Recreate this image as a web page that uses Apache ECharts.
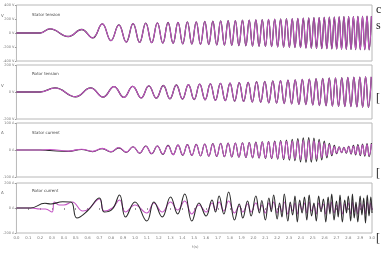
<!DOCTYPE html>
<html><head><meta charset="utf-8">
<script src="https://cdn.jsdelivr.net/npm/echarts@6/dist/echarts.min.js"></script>
<style>html,body{margin:0;padding:0;background:#fff}#c{width:385px;height:260px}</style>
</head><body><div id="c"></div>
<script>
// ---- data ----
const xTickLabels = ['0.0','0.1','0.2','0.3','0.4','0.5','0.6','0.7','0.8','0.9','1.0','1.1','1.2','1.3','1.4','1.5','1.6','1.7','1.8','1.9','2.0','2.1','2.2','2.3','2.4','2.5','2.6','2.7','2.8','2.9','3.0'];
const panelTitles = ['Stator tension','Rotor tension','Stator current','Rotor current'];
const panelUnits = ['V','V','A','A'];
const panelRanges = [400, 200, 100, 200];
const panelTickSteps = [200, 200, 100, 200];

// panel 1 & 3 extrema times (s)
const p1T = [0,0.20,0.283,0.437,0.550,0.643,0.724,0.797,0.864,0.926,0.984,1.039,1.091,1.141,1.189,1.235,1.279,1.322,1.363,1.403,1.442,1.480,1.517,1.553,1.589,1.623,1.657,1.690,1.723,1.755,1.786,1.817,1.847,1.877,1.907,1.936,1.964,1.992,2.020,2.047,2.074,2.101,2.127,2.153,2.179,2.204,2.229,2.254,2.278,2.303,2.327,2.350,2.374,2.397,2.420,2.443,2.466,2.488,2.510,2.532,2.554,2.576,2.597,2.619,2.640,2.661,2.682,2.702,2.723,2.743,2.763,2.783,2.803,2.823,2.843,2.862,2.881,2.901,2.920,2.939,2.958,2.976,2.995];
// stator voltage (V)
const p1V = [0,0,
 60,-50,50,-70,130,-110,115,-130,135,-135,
 140,-138,145,-145,150,-148,152,-155,158,-158,
 160,-162,165,-165,168,-170,172,-172,175,-176,
 178,-180,182,-182,185,-186,188,-190,190,-192,
 195,-195,198,-198,200,-202,204,-205,206,-208,
 210,-210,212,-214,215,-216,218,-220,220,-222,
 224,-224,226,-226,228,-228,230,-230,232,-232,
 234,-234,235,-236,236,-238,238,-238,240,-240,
 240];
// stator current (A), simulated / measured
const p3Sim = [0,0,
 2,-4,3,-5,6,-6,9,-8,12,-11,
 14,-13,15,-15,16,-17,18,-18,19,-20,
 20,-21,22,-22,23,-23,24,-24,25,-25,
 26,-26,26,-27,27,-28,28,-28,29,-29,
 30,-30,30,-31,31,-31,32,-32,32,-33,
 34,-35,36,-36,36,-35,34,-32,30,-28,
 25,-22,19,-16,13,-11,10,-9,9,-10,
 12,-13,14,-15,16,-17,18,-19,20,-21,
 22];
const p3Meas = [0,0,
 -2,-5,2,-6,5,-7,8,-9,12,-12,
 15,-14,15,-16,17,-17,18,-19,20,-20,
 21,-22,22,-23,24,-24,25,-25,26,-26,
 26,-27,27,-28,28,-29,29,-30,30,-31,
 31,-32,33,-34,35,-36,37,-38,40,-40,
 42,-44,45,-46,46,-45,44,-42,40,-37,
 33,-29,25,-21,17,-14,12,-10,10,-12,
 14,-15,17,-18,20,-21,22,-23,24,-25,
 26];

// panel 2 extrema times (s)
const p2T = [0,0.20,0.325,0.499,0.626,0.731,0.823,0.906,0.981,1.052,1.117,1.180,1.239,1.295,1.349,1.401,1.451,1.499,1.546,1.592,1.636,1.679,1.721,1.762,1.802,1.841,1.880,1.917,1.955,1.990,2.026,2.061,2.095,2.129,2.163,2.195,2.228,2.259,2.291,2.322,2.352,2.383,2.412,2.442,2.471,2.500,2.528,2.556,2.584,2.612,2.639,2.666,2.692,2.718,2.745,2.771,2.796,2.822,2.847,2.872,2.897,2.921,2.946,2.970,2.994];
// rotor voltage (V)
const p2V = [0,0,
 30,-35,30,-38,40,-40,42,-44,46,-46,
 48,-50,52,-52,55,-56,58,-58,60,-62,
 64,-64,66,-68,70,-70,72,-74,76,-76,
 78,-80,82,-82,84,-86,88,-88,90,-92,
 94,-94,96,-96,98,-100,100,-102,104,-104,
 105,-106,106,-108,108,-108,110,-110,110,-112,
 112,-112,112];

// rotor current (A): [t, value]
const p4Meas = [[0,0],[0.12,0],[0.24,38],[0.29,32],[0.39,50],[0.46,48],[0.51,-80],[0.60,-22],[0.70,80],[0.74,-32],[0.81,-8],[0.87,104],[0.92,-72],
 [1.00,48],[1.10,-104],[1.16,48],[1.23,-72],[1.30,88],[1.36,-48],[1.42,112],[1.48,-104],[1.54,40],[1.60,-64],[1.65,64],[1.68,-32],[1.71,96],[1.75,-48],[1.79,128],[1.84,-96],[1.88,32],[1.91,-80],[1.95,56],[1.98,-64],
 [2.02,96],[2.05,-40],[2.07,60],[2.10,-96],[2.13,80],[2.15,-30],[2.17,104],[2.20,-88],[2.22,40],[2.24,-72],[2.26,112],[2.29,-104],[2.31,48],[2.33,-56],[2.35,96],[2.37,-112],[2.39,64],[2.41,-40],[2.43,88],[2.45,-96],[2.47,104],[2.49,-64],[2.51,40],[2.53,-104],[2.55,96],[2.57,-30],[2.59,72],[2.61,-112],[2.63,88],[2.645,-48],[2.66,112],[2.68,-96],[2.70,56],[2.715,-72],[2.73,104],[2.75,-112],[2.77,64],[2.785,-40],[2.80,96],[2.82,-104],[2.835,112],[2.85,-80],[2.865,48],[2.88,-112],[2.90,96],[2.915,-56],[2.93,80],[2.945,-120],[2.96,104],[2.975,-64],[2.99,88],[3.0,-40]];
const p4Sim = [[0,0],[0.12,0],[0.20,-8],[0.245,-8],[0.30,-32],[0.32,48],[0.36,24],[0.40,24],[0.47,48],[0.56,-24],[0.61,-8],[0.70,72],[0.74,-24],[0.81,0],[0.87,64],[0.92,-32],
 [1.00,24],[1.10,-40],[1.16,40],[1.23,-32],[1.30,48],[1.36,-16],[1.42,56],[1.48,-48],[1.54,24],[1.60,-32],[1.65,40],[1.68,-16],[1.71,48],[1.75,-24],[1.79,56],[1.84,-40],[1.88,16],[1.91,-32],[1.95,32],[1.98,-32],
 [2.02,40],[2.05,-16],[2.07,24],[2.10,-40],[2.13,40],[2.15,-8],[2.17,48],[2.20,-40],[2.22,16],[2.24,-32],[2.26,48],[2.29,-48],[2.31,24],[2.33,-24],[2.35,40],[2.37,-48],[2.39,32],[2.41,-16],[2.43,40],[2.45,-40],[2.47,48],[2.49,-24],[2.51,24],[2.53,-48],[2.55,40],[2.57,-8],[2.59,32],[2.61,-48],[2.63,40],[2.645,-16],[2.66,48],[2.68,-40],[2.70,24],[2.715,-32],[2.73,48],[2.75,-48],[2.77,32],[2.785,-16],[2.80,40],[2.82,-48],[2.835,48],[2.85,-32],[2.865,24],[2.88,-48],[2.90,40],[2.915,-24],[2.93,32],[2.945,-48],[2.96,48],[2.975,-24],[2.99,40],[3.0,-16]];

// ---- chart ----
const zip = (t, v) => t.map((x, i) => [x, v[i]]);
const MAG = '#c455c4', BLK = '#2a2a2a';
const grids = [
  {left:14, top:5, width:358, height:56},
  {left:14, top:65, width:358, height:54},
  {left:14, top:123, width:358, height:54},
  {left:14, top:183, width:358, height:50}
].map(g => Object.assign(g, {show:true, borderColor:'#b8b8b8', borderWidth:1, backgroundColor:'#fff'}));

const xAxes = grids.map((g, i) => ({
  type:'value', gridIndex:i, min:0, max:3, interval:0.1,
  axisLine:{show:false}, splitLine:{show:false},
  axisTick:{show:i===3, length:2, lineStyle:{color:'#999'}},
  axisLabel:{show:i===3, fontSize:3.8, color:'#777', margin:3, fontFamily:'DejaVu Sans',
    formatter: v => xTickLabels[Math.round(v*10)]}
}));
const yAxes = grids.map((g, i) => ({
  type:'value', gridIndex:i, min:-panelRanges[i], max:panelRanges[i], interval:panelTickSteps[i],
  axisLine:{show:false}, splitLine:{show:false},
  axisTick:{show:true, length:1.5, lineStyle:{color:'#999'}},
  axisLabel:{fontSize:3.5, color:'#777', margin:2, fontFamily:'DejaVu Sans',
    formatter: v => v + ' ' + panelUnits[i]}
}));
const line = (i, data, color, z, w) => ({
  type:'line', xAxisIndex:i, yAxisIndex:i, data, showSymbol:false, smooth:0.45,
  lineStyle:{color, width:w}, z, animation:false, silent:true
});
const series = [
  line(0, zip(p1T, p1V), BLK, 2, 1.3), line(0, zip(p1T, p1V), MAG, 3, 1.1),
  line(1, zip(p2T, p2V), BLK, 2, 1.3), line(1, zip(p2T, p2V), MAG, 3, 1.1),
  line(2, zip(p1T, p3Meas), BLK, 2, 1.1), line(2, zip(p1T, p3Sim), MAG, 3, 1.1),
  line(3, p4Sim, MAG, 2, 1.1), line(3, p4Meas, BLK, 3, 1.1)
];
const titleTops = [13, 72, 131, 189];
const graphic = [];
panelTitles.forEach((t, i) => graphic.push({type:'text', left:32, top:titleTops[i],
  style:{text:t, fontSize:4, fill:'#444', fontFamily:'DejaVu Sans'}}));
const unitTops = [14, 84, 131, 191];
panelUnits.forEach((u, i) => graphic.push({type:'text', left:1, top:unitTops[i],
  style:{text:u, fontSize:4, fill:'#666', fontFamily:'DejaVu Sans'}}));
graphic.push({type:'text', left:192, top:245, style:{text:'t(s)', fontSize:3.8, fill:'#777', fontFamily:'DejaVu Sans'}});
// fragments of the surrounding page text at the right edge
const pageFragments = [['c',4],['s',20],['[',93],['[',168],['[',233]];
pageFragments.forEach(([s, y]) => graphic.push({type:'text', left:376, top:y,
  style:{text:s, fontSize:12, fill:'#222', fontFamily:'Liberation Serif'}}));

const chart = echarts.init(document.getElementById('c'), null, {renderer:'canvas'});
chart.setOption({animation:false, backgroundColor:'#fff', grid:grids, xAxis:xAxes, yAxis:yAxes, series, graphic});
</script></body></html>
